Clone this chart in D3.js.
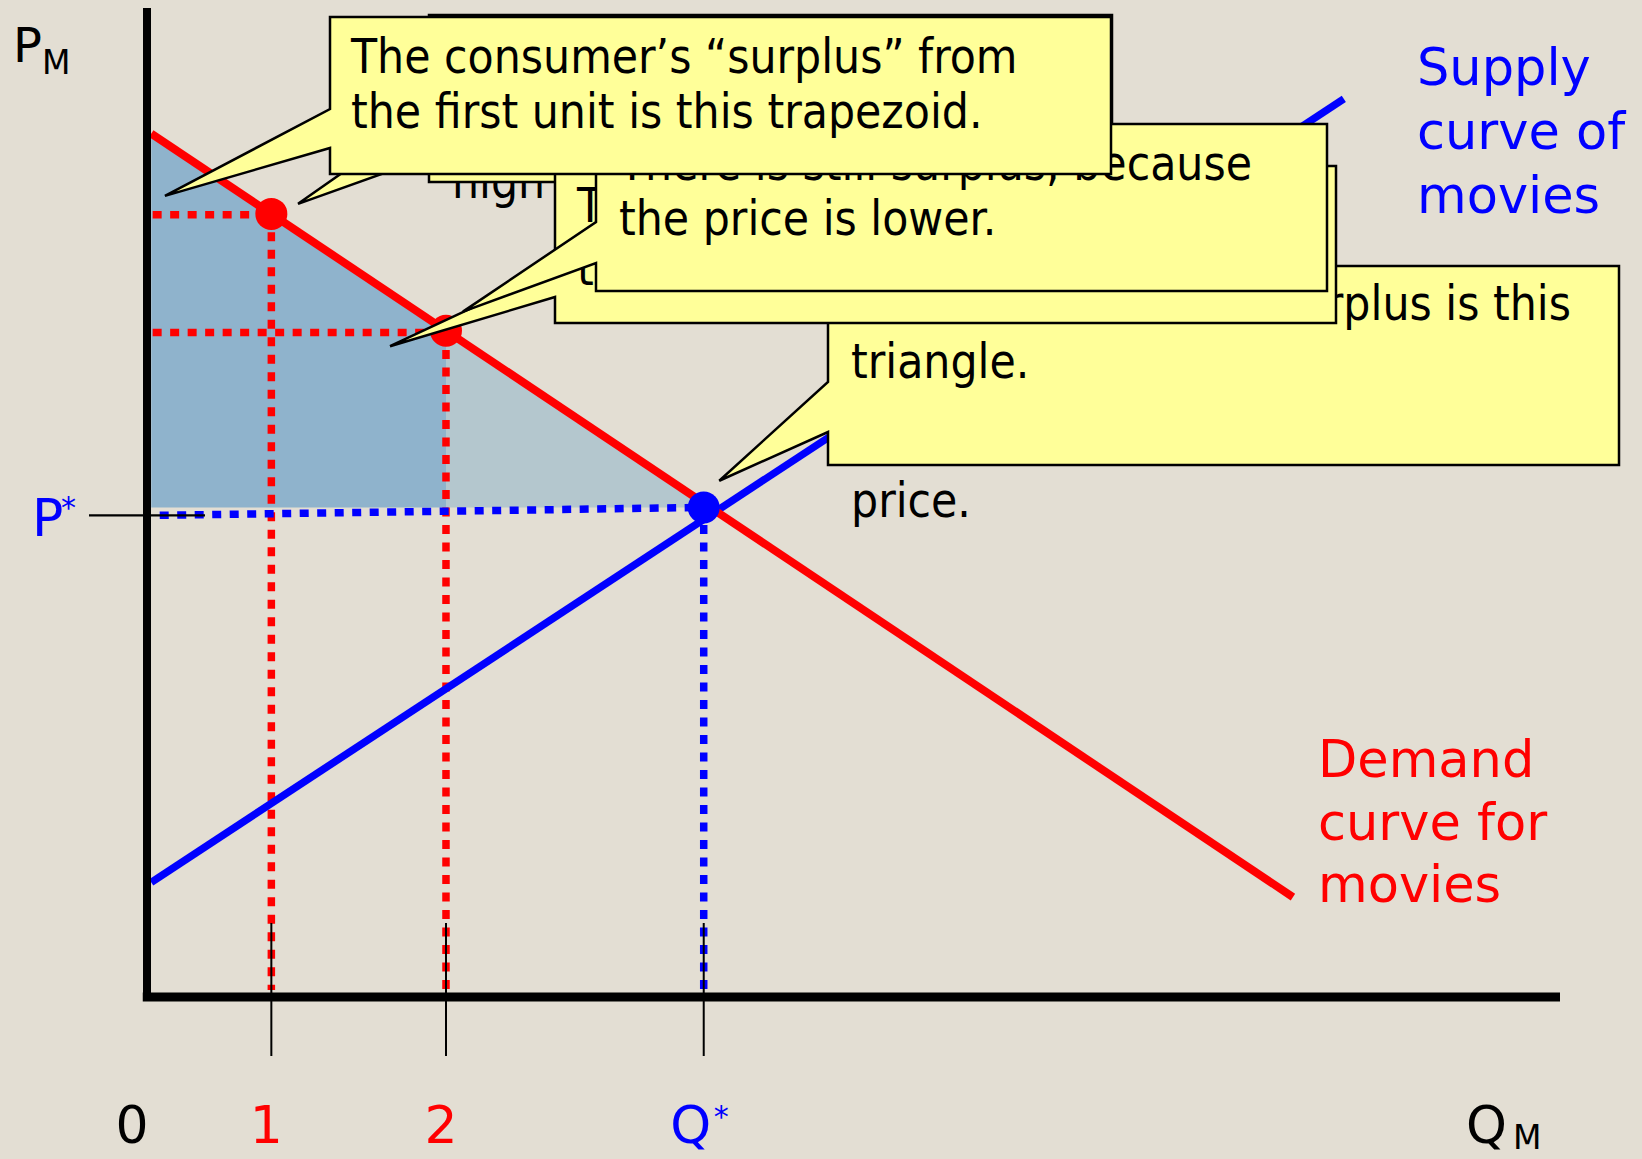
<!DOCTYPE html>
<html><head><meta charset="utf-8">
<script src="https://cdn.jsdelivr.net/npm/d3@7/dist/d3.min.js"></script>
<style>html,body{margin:0;padding:0;background:#e3ded3;} svg{display:block;}</style>
</head><body><svg id="c" width="1642" height="1159"></svg>
<script>
// ---------- data (economic units: quantity 0..100, price 0..100) ----------
const demandCurve = [[0.3, 87.3], [81.1, 10.1]];
const supplyCurve = [[0.3, 11.6], [84.7, 90.8]];
const unitQuantities = [8.8, 21.16];
const unitPrices = [79.1, 67.2];
const equilibrium = [39.4, 49.5];
const priceTickValue = 48.7;
const unitTickLabels = ["1", "2"];
const supplyLabel = ["Supply", "curve of", "movies"];
const demandLabel = ["Demand", "curve for", "movies"];
const callout1Lines = ["The consumer\u2019s \u201csurplus\u201d from", "the first unit is this trapezoid."];
const calloutBLines = ["The consumer\u2019s \u201csurplus\u201d from", "the second unit is smaller."];
const calloutCLines = ["There is still surplus, because", "the price is lower."];
const calloutDLines = ["The consumer\u2019s total surplus is this", "triangle."];
const hiddenNoteA = "high";
const hiddenNoteD = "price.";

// ---------- setup ----------
const svg = d3.select("#c");
const W = 1642, H = 1159;
const x = d3.scaleLinear().domain([0, 100]).range([147, 1560]);
const y = d3.scaleLinear().domain([0, 100]).range([997, 8]);
const RED = "#ff0000", BLUE = "#0000ff";
const labelFont = "'DejaVu Sans', sans-serif";
const calloutFont = "'DejaVu Sans Condensed', 'DejaVu Sans', sans-serif";
const CF = 47.5;

svg.append("rect").attr("width", W).attr("height", H).attr("fill", "#e3ded3");

const demandAt = q => {
  const [[q0, p0], [q1, p1]] = demandCurve;
  return p0 + (p1 - p0) * (q - q0) / (q1 - q0);
};
const line = d3.line().x(d => x(d[0])).y(d => y(d[1]));

// ---------- shaded surplus ----------
const qStart = demandCurve[0][0];
const [qStar, pEq] = equilibrium;
const q2 = unitQuantities[1];
svg.append("path")
  .attr("d", line([[qStart, demandAt(qStart)], [q2, demandAt(q2)], [q2, pEq], [qStart, pEq]]) + "Z")
  .attr("fill", "#8fb3cc");
svg.append("path")
  .attr("d", line([[q2, demandAt(q2)], [qStar, pEq], [q2, pEq]]) + "Z")
  .attr("fill", "#b4c7ce");

// ---------- dotted guide lines ----------
const dotted = (pts, color) => svg.append("path").attr("d", line(pts))
  .attr("fill", "none").attr("stroke", color).attr("stroke-width", 7.5)
  .attr("stroke-dasharray", "9,8.5");
unitQuantities.forEach((q, i) => {
  dotted([[0.4, unitPrices[i]], [q, unitPrices[i]]], RED);
  dotted([[q, unitPrices[i]], [q, 0.7]], RED);
});
dotted([[0.9, priceTickValue], equilibrium], BLUE);
dotted([equilibrium, [qStar, 0.7]], BLUE);

// ---------- curves ----------
svg.append("path").attr("d", line(supplyCurve)).attr("stroke", BLUE)
  .attr("stroke-width", 7.5).attr("fill", "none");
svg.append("path").attr("d", line(demandCurve)).attr("stroke", RED)
  .attr("stroke-width", 8).attr("fill", "none");

// points
svg.selectAll("circle.unit").data(unitQuantities).join("circle")
  .attr("class", "unit").attr("cx", d => x(d)).attr("cy", (d, i) => y(demandAt(d)))
  .attr("r", 16).attr("fill", RED);
svg.append("circle").attr("cx", x(qStar)).attr("cy", y(pEq)).attr("r", 16).attr("fill", BLUE);

// ---------- axes ----------
svg.append("line").attr("x1", x(0)).attr("x2", x(0)).attr("y1", y(100)).attr("y2", y(-0.4))
  .attr("stroke", "#000").attr("stroke-width", 8);
svg.append("line").attr("x1", x(-0.3)).attr("x2", x(100)).attr("y1", y(0)).attr("y2", y(0))
  .attr("stroke", "#000").attr("stroke-width", 9);

// ticks crossing the axis
const tickQs = unitQuantities.concat([qStar]);
svg.selectAll("line.xt").data(tickQs).join("line").attr("class", "xt")
  .attr("x1", d => x(d)).attr("x2", d => x(d))
  .attr("y1", y(0) - 74).attr("y2", y(0) + 59)
  .attr("stroke", "#000").attr("stroke-width", 2);
svg.append("line").attr("x1", x(0) - 58).attr("x2", x(0) + 58)
  .attr("y1", y(priceTickValue)).attr("y2", y(priceTickValue))
  .attr("stroke", "#000").attr("stroke-width", 2.2);

// ---------- axis labels ----------
const txt = (s, tx, ty, size, color, anchor, font) => svg.append("text")
  .attr("x", tx).attr("y", ty).attr("font-family", font || labelFont)
  .attr("font-size", size).attr("fill", color).attr("text-anchor", anchor || "start").text(s);

const baseY = y(0) + 146;
txt("0", x(0) - 15, baseY, 52, "#000", "middle");
unitTickLabels.forEach((s, i) => txt(s, x(unitQuantities[i]) - 5, baseY, 52, RED, "middle"));
txt("Q", x(qStar) - 13, baseY, 52, BLUE, "middle");
txt("*", x(qStar) + 10, baseY - 16, 30, BLUE, "start");
txt("Q", 1466, baseY, 52, "#000");
txt("M", 1513, baseY + 6, 33, "#000");
txt("P", 13, 62, 48, "#000");
txt("M", 42, 74, 33, "#000");
txt("P", 32, y(priceTickValue) + 21, 52, BLUE);
txt("*", 61, y(priceTickValue) + 3, 30, BLUE);

supplyLabel.forEach((s, i) => txt(s, 1417, 85 + i * 64, 51, BLUE));
demandLabel.forEach((s, i) => txt(s, 1318, 777 + i * 62.5, 51, RED));

// ---------- callouts ----------
function callout(box, notch, tipData) {
  const [x0, y0, w, h] = box;
  const tip = [x(tipData[0]), y(tipData[1])];
  const d = `M${x0},${y0}H${x0 + w}V${y0 + h}H${x0}V${notch[1]}L${tip[0]},${tip[1]}L${x0},${notch[0]}Z`;
  svg.append("path").attr("d", d).attr("fill", "#ffff99").attr("stroke", "#000")
    .attr("stroke-width", 2.5).attr("stroke-linejoin", "miter");
}
const lines = (arr, tx, ty0, dy, anchors) => arr.forEach((s, i) =>
  txt(s, Array.isArray(tx) ? tx[i] : tx, ty0 + i * dy, CF, "#000", anchors ? anchors[i] : "start", calloutFont));

txt(hiddenNoteD, 851, 517, CF, "#000", "start", calloutFont);
callout([828, 266, 791, 199], [382, 432], [40.5, 52.2]);
lines(calloutDLines, [1571, 851], 320, 58, ["end", "start"]);
txt(hiddenNoteA, 452, 198, CF, "#000", "start", calloutFont);
callout([429, 15, 683, 167], [112, 157], [10.69, 80.2]);
callout([555, 166, 781, 157], [269, 297], [17.2, 65.8]);
lines(calloutBLines, 577, 222, 63);
callout([596, 124, 731, 167], [222, 263], [22.36, 69.3]);
lines(calloutCLines, 619, 180, 55);
callout([330, 17, 781, 157], [109, 148], [1.27, 81.0]);
lines(callout1Lines, 351, 73, 55);
</script></body></html>
